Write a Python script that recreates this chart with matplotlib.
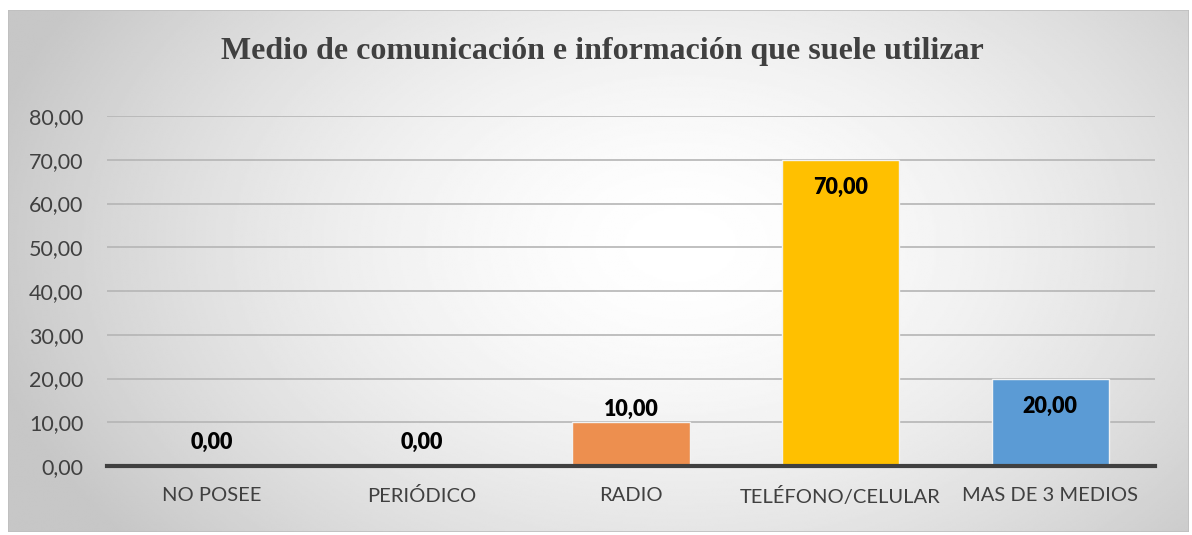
import numpy as np
import matplotlib
matplotlib.use('Agg')
import matplotlib.pyplot as plt
from matplotlib.patches import Rectangle

# Datos del grafico
categorias = ['NO POSEE', 'PERIÓDICO', 'RADIO', 'TELÉFONO/CELULAR', 'MAS DE 3 MEDIOS']
valores = [0.00, 0.00, 10.00, 70.00, 20.00]
colores = ['#ED7D31', '#A5A5A5', '#ED8F4F', '#FFC000', '#5B9BD5']
ticks_y = [0, 10, 20, 30, 40, 50, 60, 70, 80]

titulo = 'Medio de comunicación e información que suele utilizar'

W, H = 1192, 535
fig = plt.figure(figsize=(W / 100, H / 100), dpi=100)
fig.patch.set_facecolor('white')

# fondo con degradado radial (caja del grafico)
x0, y0, x1, y1 = 8, 10, 1189, 532
bg = fig.add_axes([x0 / W, 1 - y1 / H, (x1 - x0) / W, (y1 - y0) / H])
gx, gy = np.meshgrid(np.linspace(0, 1, 600), np.linspace(0, 1, 300))
cx, cy = 0.57, 0.45
r = np.sqrt(((gx - cx) / 0.6) ** 2 + ((gy - cy) / 0.9) ** 2)
r = np.clip(r, 0, 1)
tono = 1.0 - 0.22 * r ** 1.6
bg.imshow(tono, cmap='gray', vmin=0, vmax=1, aspect='auto',
          extent=[0, 1, 1, 0], interpolation='bilinear')
bg.add_patch(Rectangle((0, 0), 1, 1, transform=bg.transAxes, fill=False,
                       edgecolor='#bfbfbf', lw=1.2))
bg.set_axis_off()

# area de trazado
px0, px1, py_top, py_bot = 107, 1155, 116, 466
ax = fig.add_axes([px0 / W, 1 - py_bot / H, (px1 - px0) / W, (py_bot - py_top) / H])
ax.patch.set_alpha(0)

x = np.arange(len(categorias))
barras = ax.bar(x, valores, width=0.56, color=colores, edgecolor='#f2f2f2',
                linewidth=1.0, zorder=3)

for i, v in enumerate(valores):
    txt = f'{v:.2f}'.replace('.', ',')
    if v >= 15:
        off = -20
    elif v > 0:
        off = 9
    else:
        off = 17
    ax.annotate(txt, (x[i], v), xytext=(0, off), textcoords='offset points',
                ha='center', va='center', fontsize=15.5, fontweight='heavy',
                family='Lato', color='black', zorder=4)

ax.set_ylim(0, 80)
ax.set_xlim(-0.5, len(categorias) - 0.5)
ax.set_yticks(ticks_y)
ax.set_yticklabels([f'{t:.2f}'.replace('.', ',') for t in ticks_y],
                   family='Lato', fontsize=15.5, color='#404040')
ax.set_xticks(x)
ax.set_xticklabels(categorias, family='Lato', fontsize=14.5, color='#404040')
ax.tick_params(axis='both', length=0)
ax.tick_params(axis='y', pad=17)
ax.tick_params(axis='x', pad=15)
ax.grid(axis='y', color='#b5b5b5', lw=1.2, zorder=0)
ax.set_axisbelow(True)
for s in ['top', 'right', 'left']:
    ax.spines[s].set_visible(False)
ax.spines['bottom'].set_color('#404040')
ax.spines['bottom'].set_linewidth(3)
ax.spines['bottom'].set_zorder(5)

fig.text(602 / W, 1 - 51 / H, titulo, ha='center', va='center',
         family='Liberation Serif', fontweight='bold', fontsize=23, color='#404040')

fig.savefig('out.png', dpi=100)
